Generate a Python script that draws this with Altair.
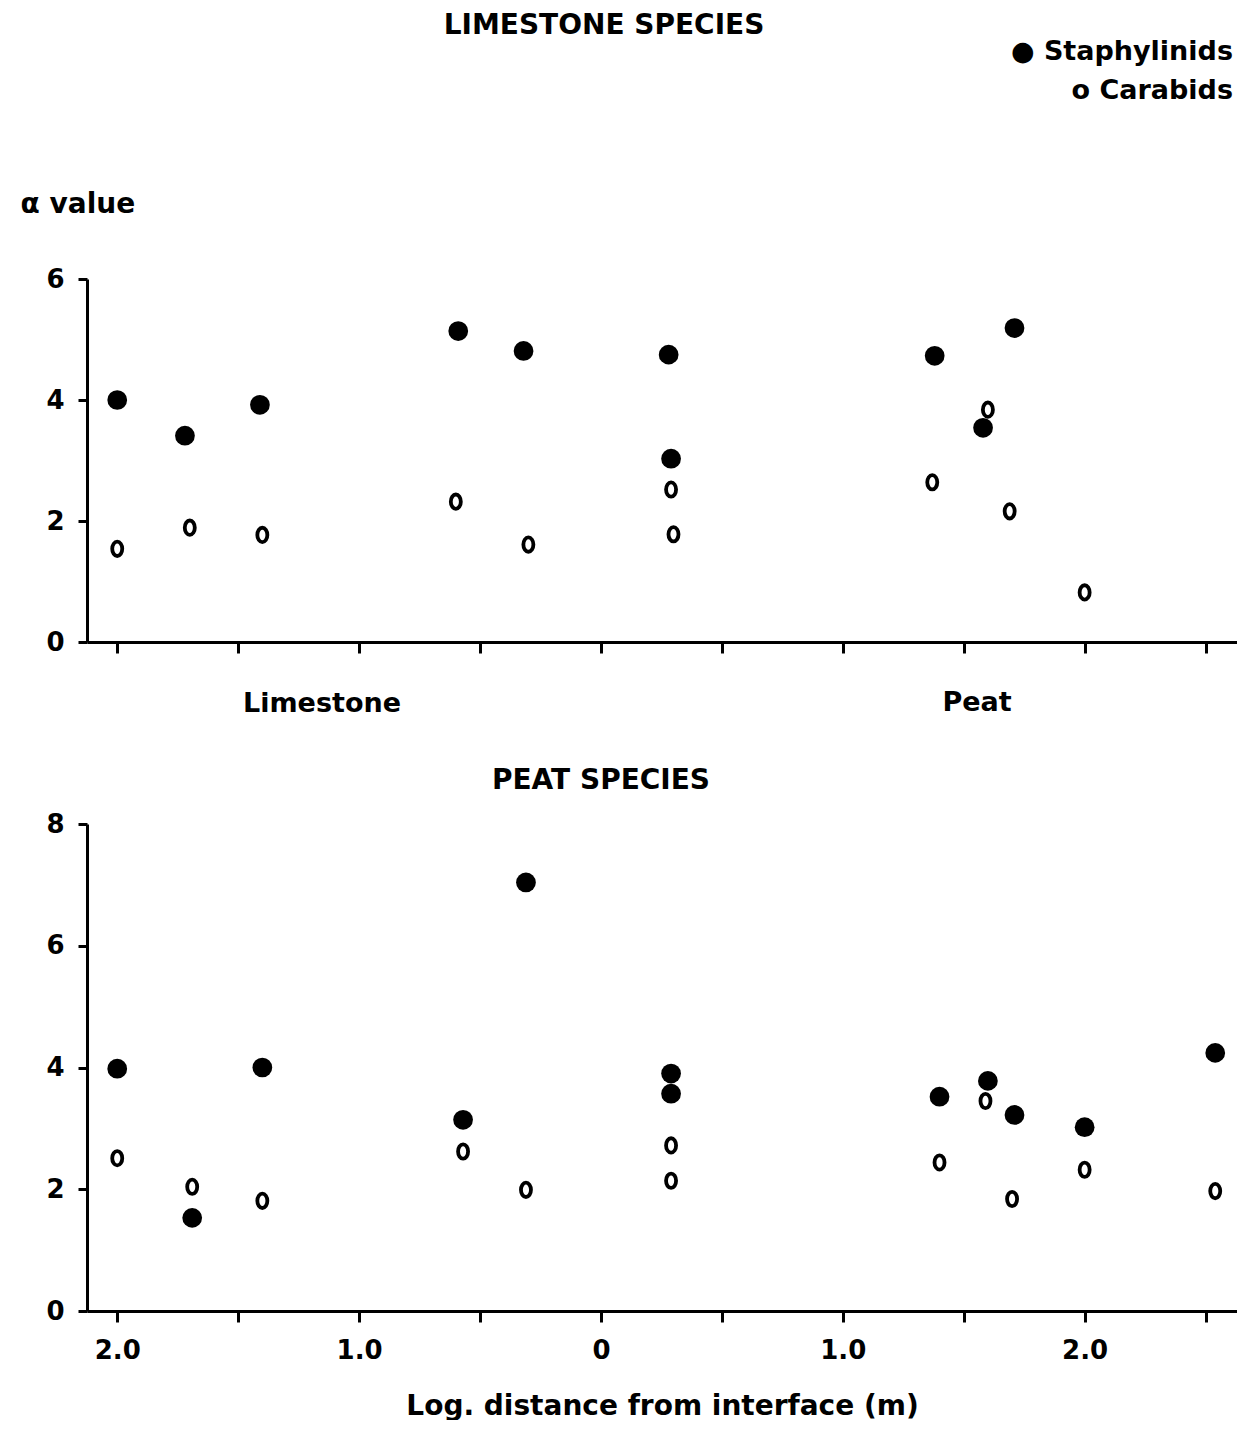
import altair as alt
import pandas as pd

FONT = "DejaVu Sans"

# ---- data (x: log distance, limestone side negative) ----
lime_staph_x = [-2.0, -1.72, -1.41, -0.59, -0.32, 0.28, 0.29, 1.38, 1.58, 1.71]
lime_staph_y = [4.00, 3.41, 3.92, 5.14, 4.81, 4.75, 3.03, 4.73, 3.54, 5.19]
lime_carab_x = [-2.0, -1.70, -1.40, -0.60, -0.30, 0.29, 0.30, 1.37, 1.60, 1.69, 2.0]
lime_carab_y = [1.54, 1.89, 1.77, 2.32, 1.61, 2.52, 1.78, 2.64, 3.84, 2.16, 0.82]

peat_staph_x = [-2.0, -1.69, -1.40, -0.57, -0.31, 0.29, 0.29, 1.40, 1.60, 1.71, 2.0, 2.54]
peat_staph_y = [3.98, 1.53, 4.00, 3.14, 7.04, 3.90, 3.57, 3.52, 3.78, 3.22, 3.02, 4.24]
peat_carab_x = [-2.0, -1.69, -1.40, -0.57, -0.31, 0.29, 0.29, 1.40, 1.59, 1.70, 2.0, 2.54]
peat_carab_y = [2.51, 2.04, 1.81, 2.62, 1.99, 2.72, 2.14, 2.44, 3.45, 1.84, 2.32, 1.97]

x_ticks = [-2.0, -1.5, -1.0, -0.5, 0.0, 0.5, 1.0, 1.5, 2.0, 2.5]
top_y_ticks = [0, 2, 4, 6]
bot_y_ticks = [0, 2, 4, 6, 8]


def frame(sx, sy, cx, cy):
    return pd.DataFrame({
        "x": sx + cx,
        "y": sy + cy,
        "group": ["Staphylinids"] * len(sx) + ["Carabids"] * len(cx),
    })


ELLIPSE = "M 0 -1 A 0.7 1 0 1 1 0 1 A 0.7 1 0 1 1 0 -1 Z"
W = 1150
x_scale = alt.Scale(domain=[-2.125, 2.63], nice=False, zero=False)
label_expr = ("datum.value == 0 ? '0' : (abs(datum.value) % 1 == 0 ? "
              "format(abs(datum.value), '.1f') : '')")


def text_layer(s, x, y, size=27, align="center"):
    return alt.Chart(pd.DataFrame({"t": [s]})).mark_text(
        font=FONT, fontWeight="bold", fontSize=size, align=align,
        baseline="middle", color="black"
    ).encode(text="t:N", x=alt.value(x), y=alt.value(y))


def points(df, ydom, xaxis, yaxis):
    base = alt.Chart(df)
    enc = dict(
        x=alt.X("x:Q", scale=x_scale, axis=xaxis),
        y=alt.Y("y:Q", scale=alt.Scale(domain=ydom, nice=False, zero=True), axis=yaxis),
    )
    carab = base.transform_filter(alt.datum.group == "Carabids").mark_point(
        shape=ELLIPSE, filled=False, size=205, strokeWidth=3.8,
        color="black", opacity=1
    ).encode(**enc)
    staph = base.transform_filter(alt.datum.group == "Staphylinids").mark_point(
        shape="circle", filled=True, size=390, color="black", opacity=1
    ).encode(**enc)
    return staph, carab


top_xaxis = alt.Axis(values=x_ticks, labels=False, title=None, tickSize=11)
top_yaxis = alt.Axis(values=top_y_ticks, title="α value", titleAngle=0,
                     titleAlign="left", titleBaseline="middle",
                     titleX=-67, titleY=-75, titleFontSize=28,
                     tickSize=9, labelPadding=14)
ts, tc = points(frame(lime_staph_x, lime_staph_y, lime_carab_x, lime_carab_y),
                [0, 6], top_xaxis, top_yaxis)
top = alt.layer(
    ts, tc,
    text_layer("LIMESTONE SPECIES", 517, -253, 28),
    text_layer("● Staphylinids", 1146, -227, 27, "right"),
    text_layer("o Carabids", 1146, -188, 27, "right"),
    text_layer("Limestone", 235, 425, 27),
    text_layer("Peat", 890, 424, 27),
).properties(width=W, height=363)

bot_xaxis = alt.Axis(values=x_ticks, labelExpr=label_expr, tickSize=11,
                     labelPadding=15, title="Log. distance from interface (m)",
                     titleFontSize=28, titlePadding=29)
bot_yaxis = alt.Axis(values=bot_y_ticks, title=None, tickSize=9, labelPadding=14)
bs, bc = points(frame(peat_staph_x, peat_staph_y, peat_carab_x, peat_carab_y),
                [0, 8], bot_xaxis, bot_yaxis)
bottom = alt.layer(
    bs, bc,
    text_layer("PEAT SPECIES", 514, -43, 28),
).properties(width=W, height=487)

chart = alt.vconcat(top, bottom, spacing=182, bounds="flush").properties(
    padding={"left": 12, "top": 4, "right": 0, "bottom": 0},
    background="white",
).configure_view(stroke=None).configure_axis(
    grid=False,
    domainColor="black", domainWidth=3,
    tickColor="black", tickWidth=3,
    labelFont=FONT, labelFontWeight="bold", labelFontSize=26, labelColor="black",
    titleFont=FONT, titleFontWeight="bold", titleColor="black",
)

chart.save("out.html", embed_options={"renderer": "svg", "actions": False})
